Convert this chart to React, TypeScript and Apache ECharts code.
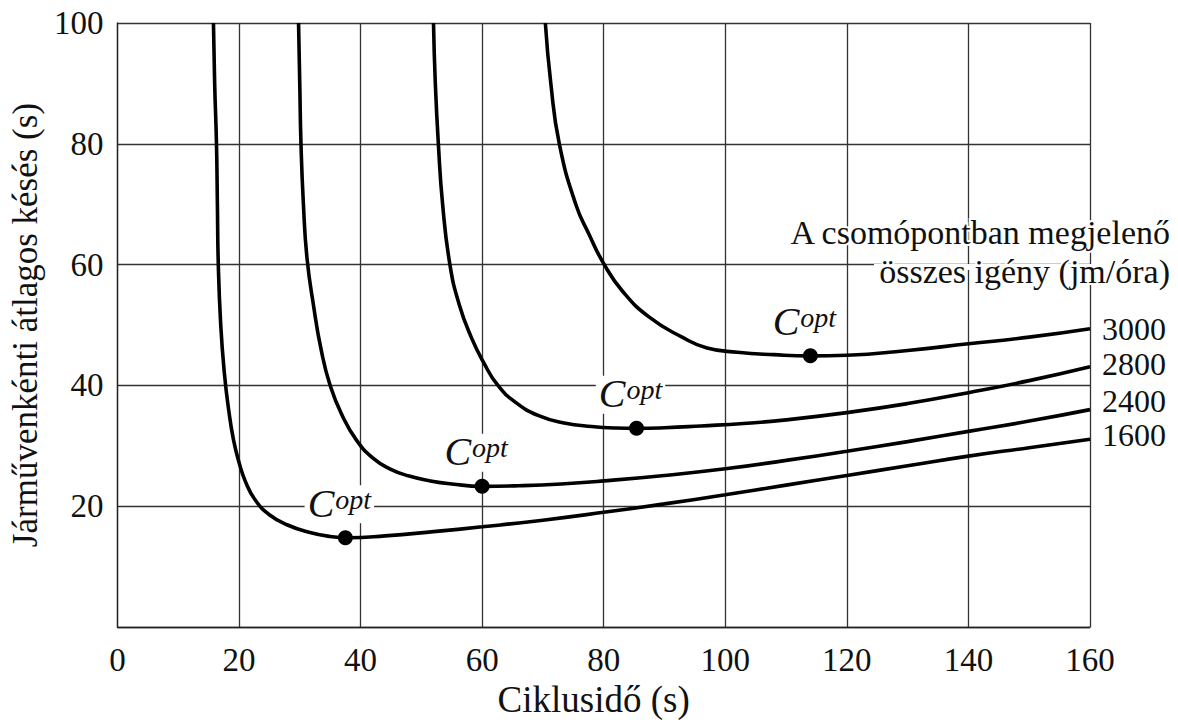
import React, { useEffect, useRef } from "react";
import * as echarts from "echarts";

// Cycle time (s) vs. average delay per vehicle (s)
const curve1600: [number, number][] = [
  [15.8, 100], [16.0, 90], [16.3, 80], [16.45, 70], [16.6, 60], [17.0, 50],
  [17.6, 42], [18.3, 36], [19.1, 31], [20.0, 27.3], [21.1, 24], [22.7, 21],
  [25.0, 18.6], [28.0, 16.9], [31.5, 15.7], [35.0, 15.0], [38.0, 14.8],
  [44, 15.1], [52, 15.8], [60, 16.6], [70, 17.7], [80, 19.0], [90, 20.4],
  [100, 21.9], [110, 23.5], [120, 25.1], [130, 26.7], [140, 28.3],
  [150, 29.7], [160, 31.1],
];
const curve2400: [number, number][] = [
  [29.8, 100], [30.0, 90], [30.2, 80], [30.6, 70], [31.2, 61], [32.3, 53],
  [33.5, 46], [35.0, 40], [37.0, 35], [39.3, 31], [42.0, 28], [44.8, 26.2],
  [48.0, 25.0], [51.5, 24.2], [55.0, 23.7], [60, 23.3], [66, 23.4],
  [73, 23.7], [80, 24.2], [90, 25.1], [100, 26.2], [110, 27.6], [120, 29.1],
  [130, 30.7], [140, 32.4], [150, 34.1], [160, 36.0],
];
const curve2800: [number, number][] = [
  [52.0, 100], [52.3, 90], [52.8, 80], [53.5, 70], [54.7, 60], [56.2, 53.5],
  [58.2, 48], [60.3, 43.7], [62.6, 40], [65.5, 37.2], [69.3, 35.0],
  [73.5, 33.8], [78.0, 33.2], [82.0, 32.95], [85.4, 32.9], [90, 33.0],
  [96, 33.3], [103, 33.7], [110, 34.3], [120, 35.5], [130, 37.0],
  [140, 38.8], [150, 40.8], [160, 43.1],
];
const curve3000: [number, number][] = [
  [70.4, 100], [71.3, 90], [72.7, 80], [75.4, 70], [77.6, 65], [80.1, 60],
  [83.1, 55.6], [87.5, 51.3], [92.9, 48.0], [97, 46.2], [102, 45.5],
  [108, 45.1], [114, 44.9], [120, 45.0], [130, 45.8], [140, 46.9],
  [150, 48.0], [160, 49.4],
];
const optimum: [number, number][] = [
  [37.5, 14.8], [60, 23.3], [85.4, 32.9], [114, 44.9],
];
const demandNames = ["1600", "2400", "2800", "3000"];
const labelOffsets = [-4, -9, -3, 0];
const legendLines = ["A csomópontban megjelenő", "összes igény (jm/óra)"];
const xTitle = "Ciklusidő (s)";
const yTitle = "Járművenkénti átlagos késés (s)";

const FONT = "'Liberation Serif', 'DejaVu Serif', serif";

export default function App() {
  const ref = useRef<HTMLDivElement>(null);
  useEffect(() => {
    if (!ref.current) return;
    const chart = echarts.init(ref.current, null, { renderer: "svg" });
    const curves = [curve1600, curve2400, curve2800, curve3000];
    const lineSeries = curves.map((data, i) => ({
      type: "line",
      name: demandNames[i],
      data,
      showSymbol: false,
      smooth: 0.5,
      clip: true,
      z: 3,
      lineStyle: { color: "#000", width: 3.6 },
      endLabel: {
        show: true,
        formatter: demandNames[i],
        color: "#111",
        fontFamily: FONT,
        fontSize: 32,
        distance: 12,
        offset: [0, labelOffsets[i]],
      },
    }));
    const gridLine = { show: true, lineStyle: { color: "#333", width: 1.3 } };
    chart.setOption({
      animation: false,
      backgroundColor: "#fff",
      grid: { left: 113, right: 88, top: 23, bottom: 90 },
      xAxis: {
        type: "value",
        min: 0,
        max: 160,
        interval: 20,
        axisLine: { show: true, lineStyle: { color: "#222", width: 1.3 } },
        axisTick: { show: false },
        splitLine: gridLine,
        axisLabel: {
          color: "#111",
          fontFamily: FONT,
          fontSize: 33,
          margin: 16,
        },
        name: xTitle,
        nameLocation: "middle",
        nameGap: 50,
        nameTextStyle: {
          color: "#111",
          fontFamily: FONT,
          fontSize: 37,
          padding: [0, 20, 0, 0],
        },
      },
      yAxis: {
        type: "value",
        min: 0,
        max: 100,
        interval: 20,
        axisLine: { show: true, lineStyle: { color: "#222", width: 1.3 } },
        axisTick: { show: false },
        splitLine: gridLine,
        axisLabel: {
          color: "#111",
          fontFamily: FONT,
          fontSize: 33,
          margin: 14,
          showMinLabel: false,
          formatter: (v: number) => (v === 0 ? "" : String(v)),
        },
        name: yTitle,
        nameLocation: "middle",
        nameGap: 66,
        nameTextStyle: {
          color: "#111",
          fontFamily: FONT,
          fontSize: 35,
        },
      },
      graphic: [
        {
          type: "rect",
          z: 5,
          shape: { x: 874, y: 264, width: 220, height: 6 },
          style: { fill: "#fff" },
        },
        {
          type: "text",
          z: 6,
          x: 1170,
          y: 232,
          style: {
            text: legendLines[0],
            fill: "#111",
            fontFamily: FONT,
            fontSize: 34,
            align: "right",
            verticalAlign: "middle",
            stroke: "#fff",
            lineWidth: 4,
          },
        },
        {
          type: "text",
          z: 6,
          x: 1170,
          y: 271,
          style: {
            text: legendLines[1],
            fill: "#111",
            fontFamily: FONT,
            fontSize: 34,
            align: "right",
            verticalAlign: "middle",
            stroke: "#fff",
            lineWidth: 4,
          },
        },
      ],
      series: [
        ...lineSeries,
        {
          type: "scatter",
          data: optimum,
          symbol: "circle",
          symbolSize: 15,
          z: 4,
          itemStyle: { color: "#000", opacity: 1 },
          label: {
            show: true,
            position: "top",
            distance: 7,
            offset: [-6, 0],
            formatter: "{c|C}{o|opt}",
            backgroundColor: "#fff",
            padding: [0, 3, 0, 3],
            rich: {
              c: {
                fontFamily: FONT,
                fontStyle: "italic",
                fontSize: 40,
                lineHeight: 38,
                color: "#111",
                verticalAlign: "bottom",
              },
              o: {
                fontFamily: FONT,
                fontStyle: "italic",
                fontSize: 28,
                lineHeight: 26,
                color: "#111",
                verticalAlign: "top",
                padding: [0, 0, 0, 1],
              },
            },
          },
        },
      ],
    });
    return () => chart.dispose();
  }, []);
  return (
    <div
      ref={ref}
      style={{ position: "fixed", left: 0, top: 0, width: 1178, height: 723 }}
    />
  );
}
